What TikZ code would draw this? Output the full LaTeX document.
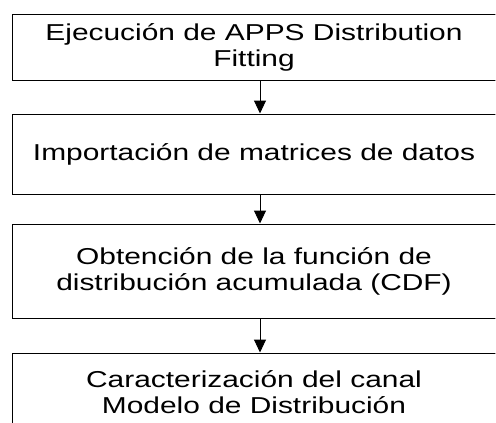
\documentclass[tikz,border=0pt]{standalone}
\usepackage{fontspec}
\setmainfont{Liberation Sans}[FakeStretch=1.3]
\usetikzlibrary{arrows.meta}

\tikzset{
  procbox/.style={draw, line width=1pt, minimum width=484pt, align=center,
    font=\fontsize{23}{26}\selectfont},
  flecha/.style={line width=1pt, -{Triangle[width=12pt,length=13pt]}}
}

\begin{document}
\begin{tikzpicture}[x=1pt, y=-1pt]

  \useasboundingbox (0,0) rectangle (496,423);
  \clip (0,0) rectangle (495.3,423);

  % Steps of the process
  \node[procbox, minimum height=66pt] (ejec) at (254,47.8) {Ejecución de APPS Distribution\\Fitting};
  \node[procbox, minimum height=80pt] (impo) at (254,154) {Importación de matrices de datos};
  \node[procbox, minimum height=94pt] (cdf) at (254,271) {Obtención de la función de\\distribución acumulada (CDF)};
  \node[procbox, minimum height=78pt] (carac) at (254,392) {Caracterización del canal\\Modelo de Distribución};

  % Arrows
  \draw[flecha] ([xshift=6pt]ejec.south) -- ([xshift=6pt]impo.north);
  \draw[flecha] ([xshift=6pt]impo.south) -- ([xshift=6pt]cdf.north);
  \draw[flecha] ([xshift=6pt]cdf.south) -- ([xshift=6pt]carac.north);

\end{tikzpicture}
\end{document}
